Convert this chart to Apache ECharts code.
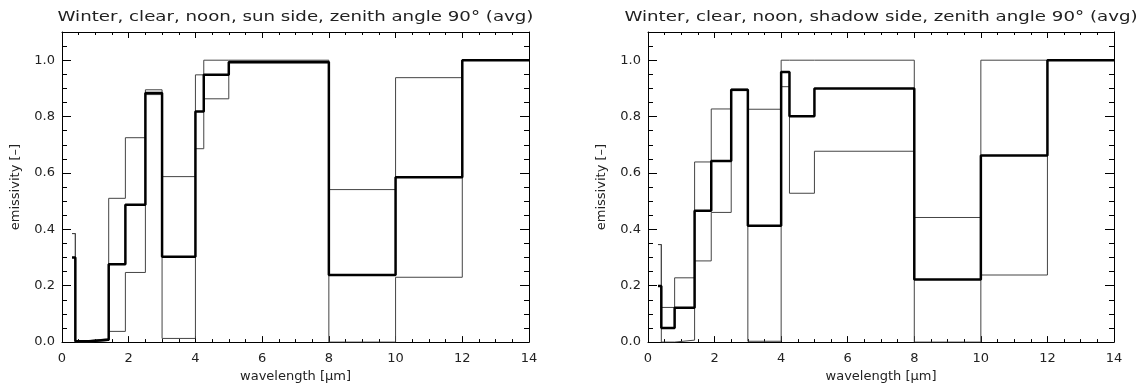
<!DOCTYPE html>
<html>
<head>
<meta charset="utf-8">
<script src="https://cdn.jsdelivr.net/npm/echarts@6/dist/echarts.min.js"></script>
<style>
  html, body { margin: 0; padding: 0; background: #fff; }
  #chart { width: 1141px; height: 388px; }
</style>
</head>
<body>
<div id="chart"></div>
<script>
// band edges in µm (step plot, one value per band)
const bandEdges = [0.3, 0.4, 0.8, 1.4, 1.9, 2.5, 3, 4, 4.25, 5, 8, 10, 12, 14]

// sun side
const sunAvg = [0.30, 0.003, 0.008, 0.276, 0.487, 0.884, 0.303, 0.818, 0.948, 0.994, 0.238, 0.585, 1.0]
const sunA   = [0.385, 0.005, 0.012, 0.51, 0.725, 0.895, 0.587, 0.948, 1.0, 1.0, 0.541, 0.938, 1.0]
const sunB   = [0.385, 0.0, 0.006, 0.038, 0.247, 0.878, 0.013, 0.686, 0.863, 0.99, 0.0, 0.23, 1.0]

// shadow side
const shadeAvg = [0.199, 0.05, 0.122, 0.466, 0.642, 0.895, 0.413, 0.958, 0.801, 0.9, 0.222, 0.662, 1.0]
const shadeA   = [0.346, 0.123, 0.228, 0.639, 0.827, 0.897, 0.826, 1.0, 1.0, 1.0, 0.442, 1.0, 1.0]
const shadeB   = [0.346, 0.0, 0.007, 0.288, 0.46, 0.892, 0.003, 0.906, 0.528, 0.677, 0.0, 0.238, 1.0]

const xTicks = [0, 2, 4, 6, 8, 10, 12, 14]
const yTicks = [0.0, 0.2, 0.4, 0.6, 0.8, 1.0]

const titles = [
  'Winter, clear, noon, sun side, zenith angle 90° (avg)',
  'Winter, clear, noon, shadow side, zenith angle 90° (avg)',
]

const FONT = 'DejaVu Sans'
const INK = '#222'

// turn per-band values into step points
function steps(vals) {
  const pts = []
  vals.forEach((v, i) => {
    pts.push([bandEdges[i], v])
    pts.push([bandEdges[i + 1], v])
  })
  return pts
}

const grids = [
  { left: 62, top: 32, width: 467, height: 316 },
  { left: 648, top: 32, width: 466, height: 316 },
]

function xAxisFor(gridIndex, position) {
  const bottom = position === 'bottom'
  return {
    type: 'value',
    gridIndex,
    position,
    min: xTicks[0],
    max: xTicks[xTicks.length - 1],
    interval: xTicks[1] - xTicks[0],
    name: bottom ? 'wavelength [μm]' : '',
    nameLocation: 'middle',
    nameGap: 23,
    nameTextStyle: { fontFamily: FONT, fontSize: 13, color: INK },
    axisLine: { show: true, onZero: false, lineStyle: { color: '#000', width: 1 } },
    axisTick: { show: true, inside: true, length: 6, lineStyle: { color: '#000' } },
    minorTick: { show: true, splitNumber: 4, length: 3, lineStyle: { color: '#000' } },
    axisLabel: {
      show: bottom, margin: 10, fontFamily: FONT, fontSize: 13, color: INK,
      formatter: v => String(v),
    },
    splitLine: { show: false },
  }
}

function yAxisFor(gridIndex, position) {
  const left = position === 'left'
  return {
    type: 'value',
    gridIndex,
    position,
    min: 0,
    max: 1.1,
    interval: yTicks[1] - yTicks[0],
    name: left ? 'emissivity [–]' : '',
    nameLocation: 'middle',
    nameGap: 40,
    nameTextStyle: { fontFamily: FONT, fontSize: 13, color: INK },
    axisLine: { show: true, onZero: false, lineStyle: { color: '#000', width: 1 } },
    axisTick: { show: true, inside: true, length: 9, lineStyle: { color: '#000' } },
    minorTick: { show: true, splitNumber: 4, length: 5, lineStyle: { color: '#000' } },
    axisLabel: {
      show: left, margin: 7, fontFamily: FONT, fontSize: 13, color: INK,
      formatter: v => (v > 1.05 ? '' : v.toFixed(1)),
    },
    splitLine: { show: false },
  }
}

function line(vals, idx, thick) {
  return {
    type: 'line',
    xAxisIndex: idx * 2,
    yAxisIndex: idx * 2,
    data: steps(vals),
    symbol: 'none',
    silent: true,
    animation: false,
    z: thick ? 3 : 2,
    lineStyle: { color: thick ? '#000' : '#444', width: thick ? 2.5 : 1 },
  }
}

const chart = echarts.init(document.getElementById('chart'))

chart.setOption({
  animation: false,
  backgroundColor: '#fff',
  // the original titles use a wide, short vector font: stretch horizontally
  graphic: titles.map((t, i) => ({
    type: 'text',
    x: grids[i].left + grids[i].width / 2,
    y: 10,
    scaleX: 1.3,
    style: {
      text: t, fontFamily: FONT, fontSize: 14, fill: INK,
      textAlign: 'center', textVerticalAlign: 'top',
    },
  })),
  grid: grids,
  xAxis: [
    xAxisFor(0, 'bottom'), xAxisFor(0, 'top'),
    xAxisFor(1, 'bottom'), xAxisFor(1, 'top'),
  ],
  yAxis: [
    yAxisFor(0, 'left'), yAxisFor(0, 'right'),
    yAxisFor(1, 'left'), yAxisFor(1, 'right'),
  ],
  series: [
    line(sunA, 0, false),
    line(sunB, 0, false),
    line(sunAvg, 0, true),
    line(shadeA, 1, false),
    line(shadeB, 1, false),
    line(shadeAvg, 1, true),
  ],
})
</script>
</body>
</html>
